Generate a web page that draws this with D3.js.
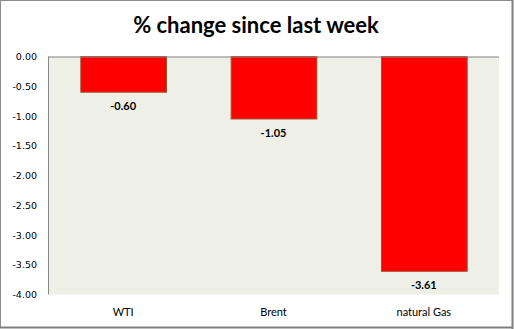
<!DOCTYPE html>
<html><head><meta charset="utf-8">
<script src="https://cdn.jsdelivr.net/npm/d3@7/dist/d3.min.js"></script>
<style>html,body{margin:0;padding:0;background:#fff;}svg{display:block;}</style>
</head><body>
<svg id="c" width="514" height="329"></svg>
<script>
const categories = ["WTI", "Brent", "natural Gas"];
const values = [-0.60, -1.05, -3.61];
const yTicks = [0, -0.5, -1, -1.5, -2, -2.5, -3, -3.5, -4];
const title = "% change since last week";

const fmt = d => d.toFixed(2);
const svg = d3.select("#c");
const W = 514, H = 329;
const plot = {left: 48, top: 56.5, right: 499, bottom: 294.5};

// outer frame
svg.append("rect").attr("x", 0).attr("y", 0).attr("width", W).attr("height", H).attr("fill", "#fff");
svg.append("line").attr("x1", 0.5).attr("x2", 0.5).attr("y1", 0).attr("y2", 328).attr("stroke", "#8c8c8c");
svg.append("line").attr("x1", 0).attr("x2", 513).attr("y1", 0.5).attr("y2", 0.5).attr("stroke", "#8c8c8c");
svg.append("line").attr("x1", 512.5).attr("x2", 512.5).attr("y1", 0).attr("y2", 329).attr("stroke", "#7f7f7f").attr("stroke-width", 2);
svg.append("line").attr("x1", 0).attr("x2", 512).attr("y1", 327.5).attr("y2", 327.5).attr("stroke", "#7f7f7f").attr("stroke-width", 2);

const x = d3.scaleBand().domain(categories).range([plot.left, plot.right]).paddingInner(0.43).paddingOuter(0.215);
const y = d3.scaleLinear().domain([0, -4]).range([plot.top, plot.bottom]);

svg.append("rect").attr("x", plot.left).attr("y", plot.top)
  .attr("width", plot.right - plot.left).attr("height", plot.bottom - plot.top)
  .attr("fill", "#eef0e8");

// bars
svg.selectAll("rect.bar").data(values).enter().append("rect")
  .attr("class", "bar")
  .attr("x", (d, i) => x(categories[i]) + 0.5)
  .attr("y", y(0))
  .attr("width", x.bandwidth())
  .attr("height", d => y(d) - y(0))
  .attr("fill", "#ff0000")
  .attr("stroke", "#a0522d").attr("stroke-width", 1);

// axes lines
svg.append("line").attr("x1", plot.left + 0.5).attr("x2", plot.left + 0.5)
  .attr("y1", plot.top).attr("y2", plot.bottom).attr("stroke", "#868686");
svg.append("line").attr("x1", plot.left).attr("x2", plot.right)
  .attr("y1", plot.top + 0.5).attr("y2", plot.top + 0.5).attr("stroke", "#868686");

// y axis labels
const yAxis = d3.axisLeft(y).tickValues(yTicks).tickFormat(fmt).tickSize(0).tickPadding(11);
const gy = svg.append("g").attr("transform", `translate(${plot.left},0)`).call(yAxis);
gy.select(".domain").remove();
gy.selectAll("text").attr("font-family", "DejaVu Sans").attr("font-size", "9.5px").attr("fill", "#000");

// x category labels
svg.selectAll("text.cat").data(categories).enter().append("text")
  .attr("class", "cat")
  .attr("x", d => x(d) + x.bandwidth() / 2)
  .attr("y", 316)
  .attr("text-anchor", "middle")
  .attr("font-family", "Lato").attr("font-size", "11px").attr("fill", "#000")
  .text(d => d);

// value labels
svg.selectAll("text.val").data(values).enter().append("text")
  .attr("class", "val")
  .attr("x", (d, i) => x(categories[i]) + x.bandwidth() / 2)
  .attr("y", d => y(d) + 18)
  .attr("text-anchor", "middle")
  .attr("font-family", "Lato").attr("font-weight", "bold").attr("font-size", "11px").attr("fill", "#000")
  .text(d => fmt(d));

// title
svg.append("text").attr("x", 256).attr("y", 33).attr("text-anchor", "middle")
  .attr("font-family", "Lato").attr("font-weight", "bold").attr("font-size", "22px").attr("fill", "#000")
  .text(title);
</script>
</body></html>
